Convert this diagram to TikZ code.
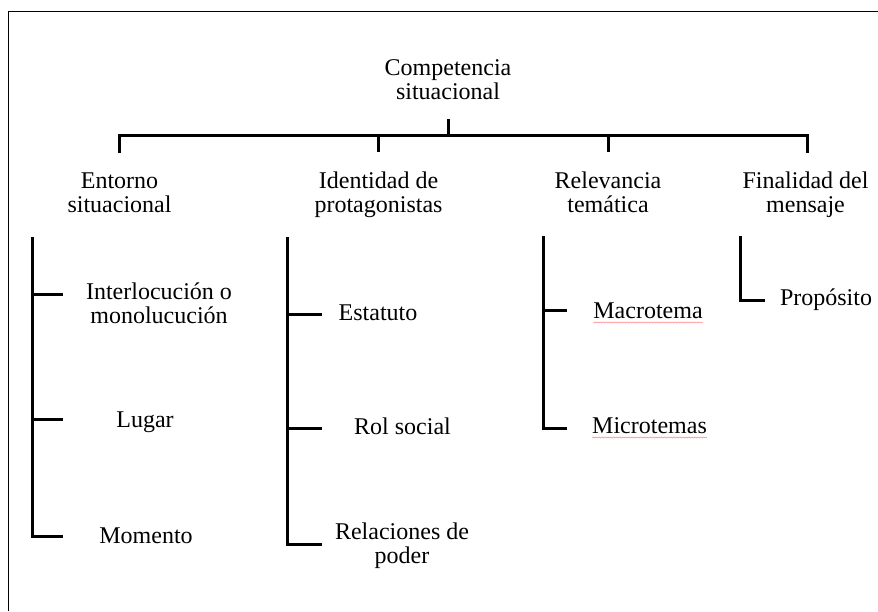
\documentclass[tikz,border=0pt]{standalone}
\usepackage{fontspec}
\setmainfont{Liberation Serif}
\usetikzlibrary{decorations.pathmorphing}

\begin{document}
\begin{tikzpicture}[x=1pt,y=-1pt,
  txt/.style={align=center,inner sep=0pt,anchor=base,font=\fontsize{24}{24}\selectfont},
  rama/.style={line width=3pt},
  subr/.style={red!45,line width=0.6pt,decorate,decoration={snake,amplitude=0.5pt,segment length=3pt}}]
\def\colr{black};
\useasboundingbox (0,0) rectangle (878,611);
\draw[line width=1pt,\colr](8.5,611)--(8.5,11)--(878,11);

\node[txt] (comp) at (448,99) {Competencia\\situacional};

\node[txt] (entorno) at (119.5,212) {Entorno\\situacional};
\node[txt] (ident) at (378.5,212) {Identidad de\\protagonistas};
\node[txt] (relev) at (608,212) {Relevancia\\temática};
\node[txt] (final) at (805.5,212) {Finalidad del\\mensaje};

\node[txt] (inter) at (159,323) {Interlocución o\\monolucución};
\node[txt] (lugar) at (145,427) {Lugar};
\node[txt] (momento) at (146,543) {Momento};

\node[txt] (estatuto) at (378,320) {Estatuto};
\node[txt] (rol) at (402.5,434) {Rol social};
\node[txt] (relac) at (402,563) {Relaciones de\\poder};

\node[txt] (macro) at (648,318) {Macrotema};
\node[txt] (micro) at (649.5,433) {Microtemas};

\node[txt] (prop) at (826,305) {Propósito};

\coordinate (cima) at (448,119);
\coordinate (barra) at (448,135);
\coordinate (e0) at (119,153);
\coordinate (i0) at (378,152);
\coordinate (r0) at (608,152);
\coordinate (f0) at (807,153);

\draw[rama](cima)--(barra);
\draw[rama](e0)|-(f0|-barra)--(f0);
\draw[rama](i0|-barra)--(i0);
\draw[rama](r0|-barra)--(r0);

\coordinate (e1) at (32,237);
\coordinate (i1) at (287,237);
\coordinate (r1) at (543,236);
\coordinate (f1) at (740,236);

\draw[rama](e1)--(32,536)--(63,536);
\draw[rama](32,294)--(63,294);
\draw[rama](32,419)--(63,419);

\draw[rama](i1)--(287,544)--(322,544);
\draw[rama](287,314)--(322,314);
\draw[rama](287,428)--(322,428);

\draw[rama](r1)--(543,428)--(567,428);
\draw[rama](543,310)--(567,310);

\draw[rama](f1)--(740,300)--(765,300);

\draw[subr]([yshift=-4pt]macro.south west)--([yshift=-4pt]macro.south east);
\draw[subr]([yshift=-4pt]micro.south west)--([yshift=-4pt]micro.south east);

\end{tikzpicture}
\end{document}
